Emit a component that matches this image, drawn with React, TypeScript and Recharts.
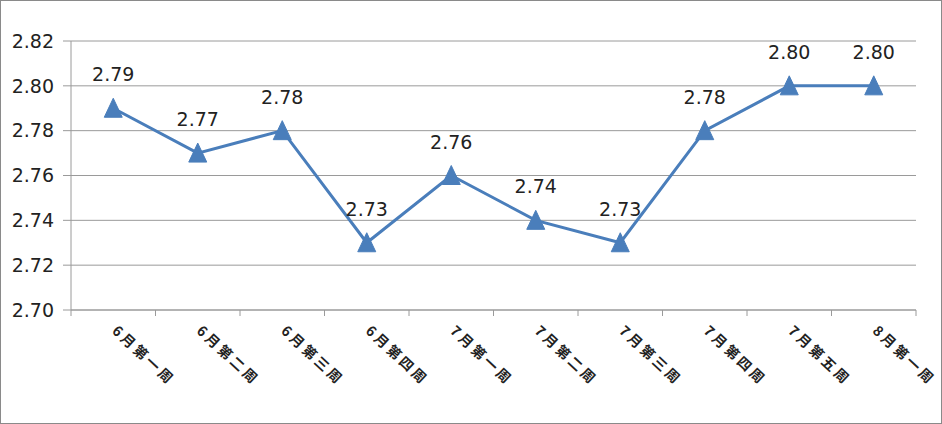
import React from "react";
import { LineChart, Line, XAxis, YAxis, CartesianGrid, LabelList } from "recharts";

const categories = ["6月第一周", "6月第二周", "6月第三周", "6月第四周", "7月第一周", "7月第二周", "7月第三周", "7月第四周", "7月第五周", "8月第一周"];
const values = [2.79, 2.77, 2.78, 2.73, 2.76, 2.74, 2.73, 2.78, 2.80, 2.80];
const yTicks = [2.70, 2.72, 2.74, 2.76, 2.78, 2.80, 2.82];

const data = categories.map((c, i) => ({ name: c, value: values[i] }));

const W = 942;
const H = 424;
const PLOT_LEFT = 71;
const PLOT_RIGHT = 916;
const PLOT_TOP = 41;
const PLOT_BOTTOM = 310;
const BAND = (PLOT_RIGHT - PLOT_LEFT) / categories.length;
const LINE_COLOR = "#4a7ebb";
const GRID = "#9a9a9a";
const FONT = "'DejaVu Sans', sans-serif";

const Triangle = (props: any) => {
  const { cx, cy } = props;
  if (cx == null || cy == null) return null;
  return (
    <polygon
      points={`${cx},${cy - 10} ${cx - 9},${cy + 9} ${cx + 9},${cy + 9}`}
      fill={LINE_COLOR}
      stroke={LINE_COLOR}
      strokeWidth={1}
      strokeLinejoin="round"
    />
  );
};

const XTick = (props: any) => {
  const { x, y, payload, index } = props;
  const right = x + BAND / 2;
  const left = x - BAND / 2;
  const ax = x - 2;
  const ay = y + 22;
  return (
    <g>
      {index === 0 && <line x1={left} y1={y} x2={left} y2={y + 6} stroke={GRID} strokeWidth={1} />}
      <line x1={right} y1={y} x2={right} y2={y + 6} stroke={GRID} strokeWidth={1} />
      <text
        x={ax}
        y={ay}
        transform={`rotate(43 ${ax} ${ay})`}
        textAnchor="start"
        fontSize={14}
        fontWeight="bold"
        letterSpacing={3}
        fill="#222"
        fontFamily="'Noto Sans CJK SC', sans-serif"
      >
        {payload.value}
      </text>
    </g>
  );
};

export default function App() {
  return (
    <div
      style={{
        position: "fixed",
        left: 0,
        top: 0,
        width: W,
        height: H,
        boxSizing: "border-box",
        border: "1px solid #8a8a8a",
        background: "#fff",
        fontFamily: FONT,
      }}
    >
      <div style={{ position: "absolute", left: -1, top: -1 }}>
        <LineChart
          width={W}
          height={H}
          data={data}
          margin={{ top: PLOT_TOP, right: W - PLOT_RIGHT, left: 0, bottom: 0 }}
        >
          <CartesianGrid vertical={false} stroke={GRID} strokeWidth={1} />
          <XAxis
            dataKey="name"
            axisLine={{ stroke: GRID, strokeWidth: 1 }}
            tickLine={false}
            tickSize={0}
            tickMargin={0}
            tick={<XTick />}
            interval={0}
            height={H - PLOT_BOTTOM}
            padding={{ left: BAND / 2, right: BAND / 2 }}
          />
          <YAxis
            domain={[2.7, 2.82]}
            ticks={yTicks}
            width={PLOT_LEFT}
            tickFormatter={(v: number) => v.toFixed(2)}
            axisLine={{ stroke: GRID, strokeWidth: 1 }}
            tickLine={{ stroke: GRID, strokeWidth: 1 }}
            tickSize={8}
            tickMargin={9}
            tick={{ fill: "#222", fontSize: 19, fontFamily: FONT }}
            allowDataOverflow
          />
          <Line
            type="linear"
            dataKey="value"
            stroke={LINE_COLOR}
            strokeWidth={3}
            dot={<Triangle />}
            activeDot={false}
            isAnimationActive={false}
          >
            <LabelList
              dataKey="value"
              position="top"
              offset={27}
              formatter={(v: number) => v.toFixed(2)}
              style={{ fill: "#222", fontSize: 19, fontFamily: FONT }}
            />
          </Line>
        </LineChart>
      </div>
    </div>
  );
}
